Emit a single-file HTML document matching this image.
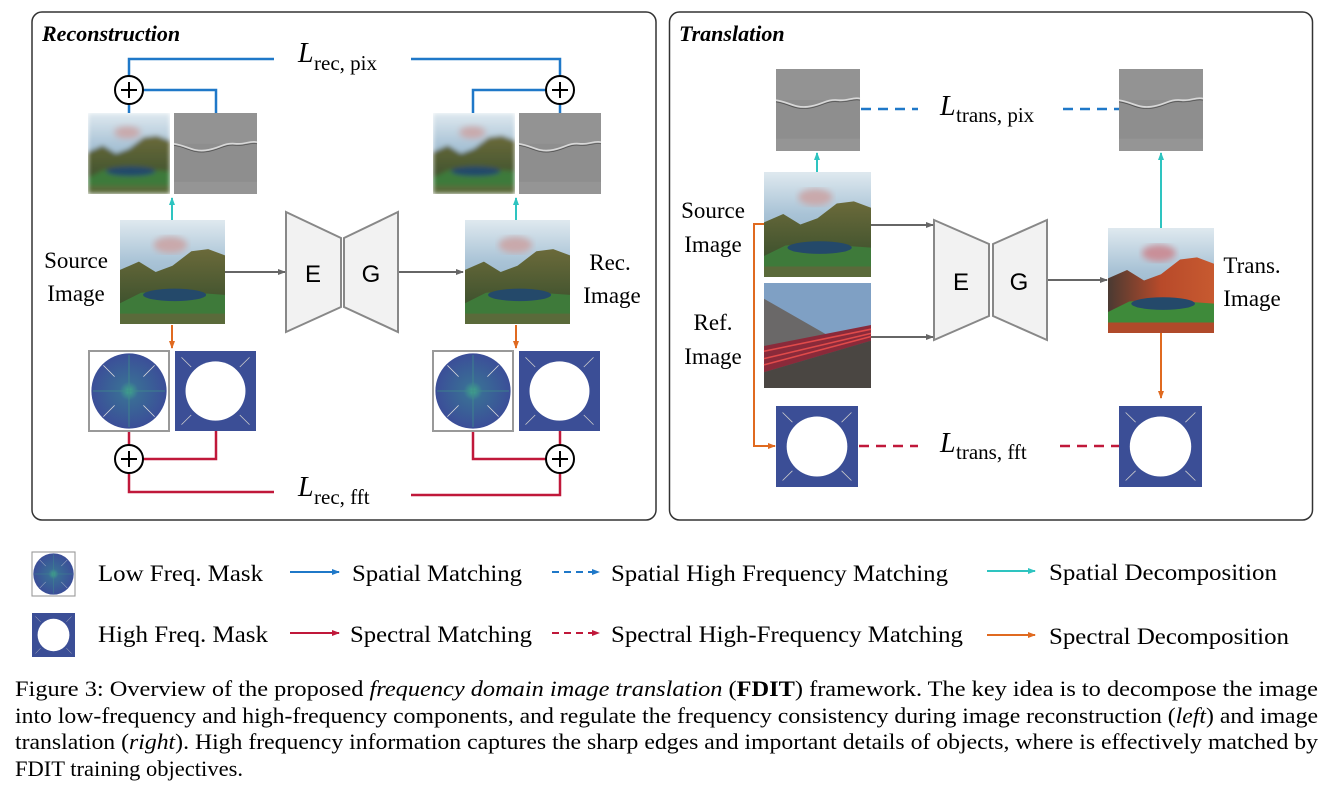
<!DOCTYPE html>
<html><head><meta charset="utf-8"><style>
html,body{margin:0;padding:0;background:#fff;}
svg{display:block;}
text{font-family:"Liberation Serif",serif;fill:#000;}
.s{font-family:"Liberation Sans",sans-serif;}
</style></head><body>
<svg width="1330" height="798" viewBox="0 0 1330 798" xmlns="http://www.w3.org/2000/svg">
<defs>
  <linearGradient id="sky" x1="0" y1="0" x2="0" y2="1">
    <stop offset="0" stop-color="#dfe9ef"/><stop offset="0.4" stop-color="#a9c3d6"/><stop offset="1" stop-color="#7fa3bd"/>
  </linearGradient>
  <linearGradient id="mtn" x1="0" y1="0" x2="0" y2="1">
    <stop offset="0" stop-color="#6b6a3a"/><stop offset="1" stop-color="#2f4a2a"/>
  </linearGradient>
  <linearGradient id="mtnR" x1="0" y1="0" x2="1" y2="0">
    <stop offset="0" stop-color="#4a3a32"/><stop offset="0.5" stop-color="#b84a2a"/><stop offset="1" stop-color="#c75a30"/>
  </linearGradient>
  <radialGradient id="fftc" cx="0.5" cy="0.5" r="0.5">
    <stop offset="0" stop-color="#3fa68a"/><stop offset="0.25" stop-color="#3a6c96"/><stop offset="1" stop-color="#3b4e98"/>
  </radialGradient>
  <filter id="blur" x="0" y="0" width="1" height="1"><feGaussianBlur stdDeviation="2.5" edgeMode="duplicate"/></filter>
  <filter id="cl"><feGaussianBlur stdDeviation="3"/></filter>
  <g id="land">
    <rect width="100" height="100" fill="url(#sky)"/>
    <ellipse cx="48" cy="24" rx="16" ry="8" fill="#c9a9ab" filter="url(#cl)"/>
    <polygon points="0,48 18,40 34,50 50,44 68,30 84,28 100,34 100,100 0,100" fill="url(#mtn)"/>
    <polygon points="0,80 20,70 45,68 100,72 100,100 0,100" fill="#3e7a3a"/>
    <ellipse cx="52" cy="72" rx="30" ry="6" fill="#24496a"/>
    <rect y="90" width="100" height="10" fill="#5a6a3a"/>
  </g>
  <g id="landT">
    <rect width="100" height="100" fill="url(#sky)"/>
    <ellipse cx="48" cy="24" rx="16" ry="8" fill="#c98f98" filter="url(#cl)"/>
    <polygon points="0,48 18,40 34,50 50,44 68,30 84,28 100,34 100,100 0,100" fill="url(#mtnR)"/>
    <polygon points="0,80 20,70 45,68 100,72 100,100 0,100" fill="#3e8a3a"/>
    <ellipse cx="52" cy="72" rx="30" ry="6" fill="#24496a"/>
    <rect y="90" width="100" height="10" fill="#b04a2a"/>
  </g>
  <g id="hf">
    <rect width="100" height="100" fill="#8e8e8e"/>
    <rect y="0" width="100" height="38" fill="#939393"/>
    <path d="M0,38 C15,40 22,48 38,46 C55,44 60,36 75,38 C85,39 92,34 100,36" stroke="#d8d8d8" stroke-width="2" fill="none"/>
    <path d="M0,40 C15,42 22,50 38,48 C55,46 60,38 75,40 C85,41 92,36 100,38" stroke="#555" stroke-width="1" fill="none"/>
    <rect y="85" width="100" height="15" fill="#999" opacity="0.7"/>
  </g>
  <g id="low">
    <rect width="100" height="100" fill="#fff" stroke="#999" stroke-width="2.5"/>
    <ellipse cx="50" cy="50" rx="47" ry="47" fill="url(#fftc)"/>
    <line x1="50" y1="5" x2="50" y2="95" stroke="#3f8c8a" stroke-width="1"/>
    <line x1="5" y1="50" x2="95" y2="50" stroke="#3f8c8a" stroke-width="1"/>
    <g stroke="#ddd" stroke-width="1"><line x1="18" y1="18" x2="32" y2="32"/><line x1="82" y1="18" x2="68" y2="32"/><line x1="18" y1="82" x2="32" y2="68"/><line x1="82" y1="82" x2="68" y2="68"/></g>
  </g>
  <g id="high">
    <rect width="100" height="100" fill="#3b4e96"/>
    <ellipse cx="50" cy="50" rx="37" ry="37" fill="#fff"/>
    <g stroke="#ccc" stroke-width="1"><line x1="8" y1="8" x2="20" y2="20"/><line x1="92" y1="8" x2="80" y2="20"/><line x1="8" y1="92" x2="20" y2="80"/><line x1="92" y1="92" x2="80" y2="80"/></g>
  </g>
  <g id="ref">
    <rect width="100" height="100" fill="#7fa0c4"/>
    <polygon points="0,15 60,50 100,52 100,100 0,100" fill="#6a6868"/>
    <polygon points="0,60 100,40 100,55 0,85" fill="#8a2a3a"/>
    <g stroke="#e04a4a" stroke-width="1.5"><line x1="0" y1="65" x2="100" y2="44"/><line x1="0" y1="72" x2="100" y2="48"/><line x1="0" y1="78" x2="100" y2="51"/></g>
    <polygon points="0,85 100,55 100,100 0,100" fill="#4a4642"/>
  </g>
  <marker id="ag" markerWidth="8" markerHeight="8" refX="7" refY="4" orient="auto" markerUnits="userSpaceOnUse"><path d="M0,1 L8,4 L0,7z" fill="#666"/></marker>
  <marker id="ac" markerWidth="8" markerHeight="8" refX="7" refY="4" orient="auto" markerUnits="userSpaceOnUse"><path d="M0,1 L8,4 L0,7z" fill="#2ec4c0"/></marker>
  <marker id="ao" markerWidth="8" markerHeight="8" refX="7" refY="4" orient="auto" markerUnits="userSpaceOnUse"><path d="M0,1 L8,4 L0,7z" fill="#e06a20"/></marker>
  <marker id="ab" markerWidth="8" markerHeight="8" refX="7" refY="4" orient="auto" markerUnits="userSpaceOnUse"><path d="M0,1 L8,4 L0,7z" fill="#1f78c8"/></marker>
  <marker id="ar" markerWidth="8" markerHeight="8" refX="7" refY="4" orient="auto" markerUnits="userSpaceOnUse"><path d="M0,1 L8,4 L0,7z" fill="#c0183a"/></marker>
</defs>

<rect x="32" y="12" width="624" height="508" rx="10" fill="none" stroke="#333" stroke-width="1.5"/>
<rect x="669.5" y="12" width="643" height="508" rx="10" fill="none" stroke="#333" stroke-width="1.5"/>
<text x="42" y="41" font-size="22" font-weight="bold" font-style="italic">Reconstruction</text>
<text x="679" y="41" font-size="22" font-weight="bold" font-style="italic">Translation</text>

<g stroke="#1f78c8" stroke-width="2.5" fill="none">
  <polyline points="129,76 129,59 274,59"/>
  <polyline points="411,59 560,59 560,76"/>
  <line x1="129" y1="104" x2="129" y2="113"/>
  <polyline points="143,90 216,90 216,113"/>
  <polyline points="546,90 473,90 473,113"/>
  <line x1="560" y1="104" x2="560" y2="113"/>
</g>
<g stroke="#c0183a" stroke-width="2.5" fill="none">
  <line x1="129" y1="431" x2="129" y2="445"/>
  <polyline points="143,459 216,459 216,431"/>
  <polyline points="129,473 129,492 274,492"/>
  <polyline points="411,495 560,495 560,473"/>
  <polyline points="473,431 473,459 546,459"/>
  <line x1="560" y1="445" x2="560" y2="431"/>
</g>
<g fill="#fff" stroke="#000" stroke-width="2">
  <circle cx="129" cy="90" r="14"/><circle cx="560" cy="90" r="14"/>
  <circle cx="129" cy="459" r="14"/><circle cx="560" cy="459" r="14"/>
</g>
<g stroke="#000" stroke-width="2">
  <line x1="121" y1="90" x2="137" y2="90"/><line x1="129" y1="82" x2="129" y2="98"/>
  <line x1="552" y1="90" x2="568" y2="90"/><line x1="560" y1="82" x2="560" y2="98"/>
  <line x1="121" y1="459" x2="137" y2="459"/><line x1="129" y1="451" x2="129" y2="467"/>
  <line x1="552" y1="459" x2="568" y2="459"/><line x1="560" y1="451" x2="560" y2="467"/>
</g>
<text x="298" y="62" font-size="28" font-style="italic">L</text><text x="314" y="70" font-size="21">rec, pix</text>
<text x="298" y="496" font-size="28" font-style="italic">L</text><text x="314" y="504" font-size="21">rec, fft</text>

<g filter="url(#blur)"><use href="#land" transform="translate(88,113) scale(0.82,0.81)"/></g>
<use href="#hf" transform="translate(174,113) scale(0.83,0.81)"/>
<g filter="url(#blur)"><use href="#land" transform="translate(433,113) scale(0.82,0.81)"/></g>
<use href="#hf" transform="translate(519,113) scale(0.82,0.81)"/>

<use href="#land" transform="translate(120,220) scale(1.05,1.04)"/>
<use href="#land" transform="translate(465,220) scale(1.05,1.04)"/>

<use href="#low" transform="translate(89,351) scale(0.8)"/>
<use href="#high" transform="translate(175,351) scale(0.81,0.8)"/>
<use href="#low" transform="translate(433,351) scale(0.8)"/>
<use href="#high" transform="translate(519,351) scale(0.81,0.8)"/>

<line x1="172" y1="220" x2="172" y2="198" stroke="#2ec4c0" stroke-width="2" marker-end="url(#ac)"/>
<line x1="516" y1="220" x2="516" y2="198" stroke="#2ec4c0" stroke-width="2" marker-end="url(#ac)"/>
<line x1="172" y1="325" x2="172" y2="348" stroke="#e06a20" stroke-width="2" marker-end="url(#ao)"/>
<line x1="516" y1="325" x2="516" y2="348" stroke="#e06a20" stroke-width="2" marker-end="url(#ao)"/>

<g fill="#f2f2f2" stroke="#888" stroke-width="2">
  <polygon points="286,212 341,238 341,307 286,332"/>
  <polygon points="344,238 398,212 398,332 344,307"/>
</g>
<text class="s" x="313" y="282" font-size="24" text-anchor="middle">E</text>
<text class="s" x="371" y="282" font-size="24" text-anchor="middle">G</text>
<line x1="225" y1="272" x2="285" y2="272" stroke="#666" stroke-width="2" marker-end="url(#ag)"/>
<line x1="399" y1="272" x2="463" y2="272" stroke="#666" stroke-width="2" marker-end="url(#ag)"/>

<text x="76" y="268" font-size="23" text-anchor="middle">Source</text>
<text x="76" y="301" font-size="23" text-anchor="middle">Image</text>
<text x="610" y="270" font-size="23" text-anchor="middle">Rec.</text>
<text x="612" y="303" font-size="23" text-anchor="middle">Image</text>

<use href="#hf" transform="translate(776,69) scale(0.84,0.82)"/>
<use href="#hf" transform="translate(1119,69) scale(0.84,0.82)"/>
<g stroke="#1f78c8" stroke-width="2.5" stroke-dasharray="10,7">
  <line x1="861" y1="109" x2="918" y2="109"/><line x1="1063" y1="109" x2="1119" y2="109"/>
</g>
<text x="940" y="115" font-size="28" font-style="italic">L</text><text x="956" y="122" font-size="21">trans, pix</text>

<use href="#land" transform="translate(764,172) scale(1.07,1.05)"/>
<use href="#ref" transform="translate(764,283) scale(1.07,1.05)"/>
<use href="#landT" transform="translate(1108,228) scale(1.06,1.05)"/>
<use href="#high" transform="translate(776,406) scale(0.82,0.81)"/>
<use href="#high" transform="translate(1119,406) scale(0.83,0.81)"/>
<g stroke="#c0183a" stroke-width="2.5" stroke-dasharray="10,7">
  <line x1="859" y1="446" x2="918" y2="446"/><line x1="1060" y1="446" x2="1119" y2="446"/>
</g>
<text x="940" y="452" font-size="28" font-style="italic">L</text><text x="956" y="459" font-size="21">trans, fft</text>

<line x1="817" y1="172" x2="817" y2="153" stroke="#2ec4c0" stroke-width="2" marker-end="url(#ac)"/>
<line x1="1161" y1="228" x2="1161" y2="153" stroke="#2ec4c0" stroke-width="2" marker-end="url(#ac)"/>
<line x1="1161" y1="333" x2="1161" y2="398" stroke="#e06a20" stroke-width="2" marker-end="url(#ao)"/>
<polyline points="764,224 754,224 754,446 775,446" fill="none" stroke="#e06a20" stroke-width="2" marker-end="url(#ao)"/>

<g fill="#f2f2f2" stroke="#888" stroke-width="2">
  <polygon points="934,220 989,244 989,316 934,340"/>
  <polygon points="993,244 1047,220 1047,340 993,316"/>
</g>
<text class="s" x="961" y="290" font-size="24" text-anchor="middle">E</text>
<text class="s" x="1019" y="290" font-size="24" text-anchor="middle">G</text>
<line x1="871" y1="225" x2="933" y2="225" stroke="#666" stroke-width="2" marker-end="url(#ag)"/>
<line x1="871" y1="337" x2="933" y2="337" stroke="#666" stroke-width="2" marker-end="url(#ag)"/>
<line x1="1048" y1="280" x2="1107" y2="280" stroke="#666" stroke-width="2" marker-end="url(#ag)"/>

<text x="713" y="218" font-size="23" text-anchor="middle">Source</text>
<text x="713" y="252" font-size="23" text-anchor="middle">Image</text>
<text x="713" y="330" font-size="23" text-anchor="middle">Ref.</text>
<text x="713" y="364" font-size="23" text-anchor="middle">Image</text>
<text x="1252" y="273" font-size="23" text-anchor="middle">Trans.</text>
<text x="1252" y="306" font-size="23" text-anchor="middle">Image</text>

<use href="#low" transform="translate(32,552) scale(0.43,0.44)"/>
<use href="#high" transform="translate(32,613) scale(0.43,0.44)"/>
<g font-size="23">
<text x="98" y="581" textLength="165" lengthAdjust="spacingAndGlyphs">Low Freq. Mask</text>
<text x="352" y="581" textLength="170" lengthAdjust="spacingAndGlyphs">Spatial Matching</text>
<text x="611" y="581" textLength="337" lengthAdjust="spacingAndGlyphs">Spatial High Frequency Matching</text>
<text x="1049" y="580" textLength="228" lengthAdjust="spacingAndGlyphs">Spatial Decomposition</text>
<text x="98" y="642" textLength="170" lengthAdjust="spacingAndGlyphs">High Freq. Mask</text>
<text x="350" y="642" textLength="182" lengthAdjust="spacingAndGlyphs">Spectral Matching</text>
<text x="611" y="642" textLength="352" lengthAdjust="spacingAndGlyphs">Spectral High-Frequency Matching</text>
<text x="1049" y="644" textLength="240" lengthAdjust="spacingAndGlyphs">Spectral Decomposition</text>
</g>
<line x1="290" y1="572" x2="339" y2="572" stroke="#1f78c8" stroke-width="2" marker-end="url(#ab)"/>
<line x1="552" y1="572" x2="599" y2="572" stroke="#1f78c8" stroke-width="2" stroke-dasharray="7,5" marker-end="url(#ab)"/>
<line x1="987" y1="571" x2="1035" y2="571" stroke="#2ec4c0" stroke-width="2" marker-end="url(#ac)"/>
<line x1="290" y1="633" x2="339" y2="633" stroke="#c0183a" stroke-width="2" marker-end="url(#ar)"/>
<line x1="552" y1="633" x2="599" y2="633" stroke="#c0183a" stroke-width="2" stroke-dasharray="7,5" marker-end="url(#ar)"/>
<line x1="987" y1="635" x2="1035" y2="635" stroke="#e06a20" stroke-width="2" marker-end="url(#ao)"/>

<g font-size="22">
<text x="15" y="696" textLength="1303" lengthAdjust="spacingAndGlyphs">Figure 3:  Overview of the proposed <tspan font-style="italic">frequency domain image translation</tspan> (<tspan font-weight="bold">FDIT</tspan>) framework.  The key idea is to decompose the image</text>
<text x="15" y="723" textLength="1303" lengthAdjust="spacingAndGlyphs">into low-frequency and high-frequency components, and regulate the frequency consistency during image reconstruction (<tspan font-style="italic">left</tspan>) and image</text>
<text x="15" y="749" textLength="1303" lengthAdjust="spacingAndGlyphs">translation (<tspan font-style="italic">right</tspan>). High frequency information captures the sharp edges and important details of objects, where is effectively matched by</text>
<text x="15" y="776" textLength="228" lengthAdjust="spacingAndGlyphs">FDIT training objectives.</text>
</g>
</svg>
</body></html>
